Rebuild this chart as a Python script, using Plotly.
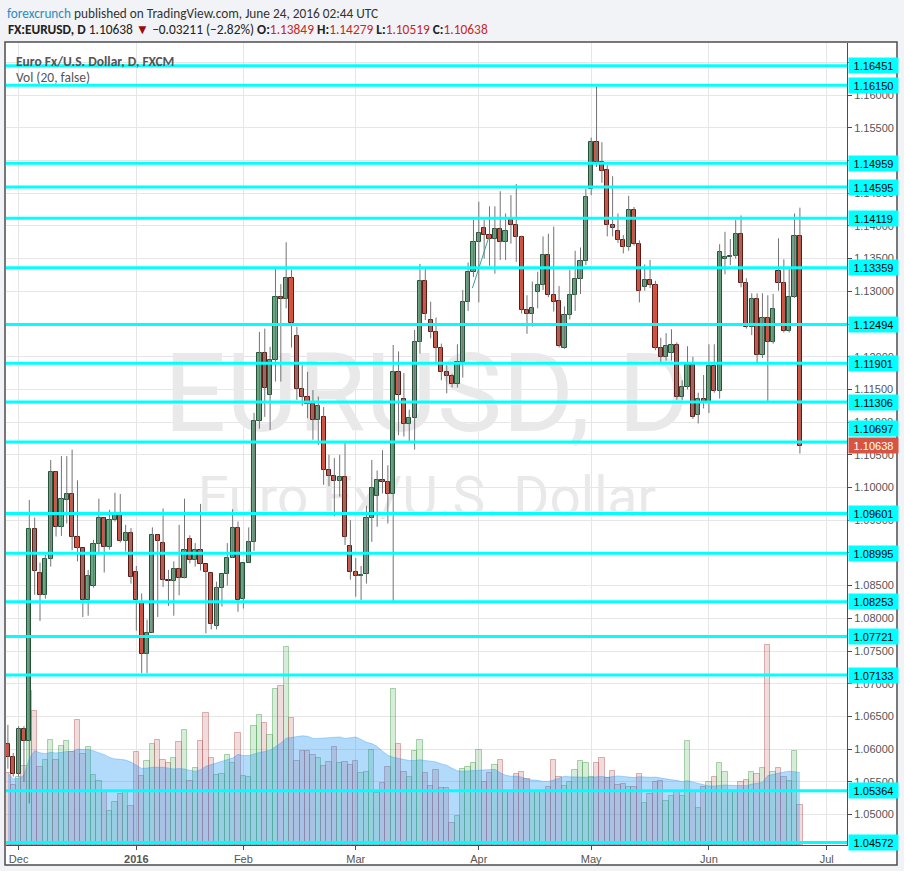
import numpy as np
import pandas as pd
import plotly.graph_objects as go

################        DATA      #####################
holidays = ["2015-12-25", "2016-01-01"]
dates = [d.strftime("%Y-%m-%d") for d in pd.bdate_range("2015-11-27", "2016-06-24")
         if d.strftime("%Y-%m-%d") not in holidays]

opens = [
    1.0608, 1.0588, 1.0562, 1.0630, 1.0612, 1.0936, 1.0869, 1.0835, 1.0890, 1.1023,
    1.0939, 1.0981, 1.0990, 1.0924, 1.0907, 1.0828, 1.0850, 1.0913, 1.0954, 1.0909,
    1.0950, 1.0958, 1.0918, 1.0930, 1.0871, 1.0824, 1.0746, 1.0778, 1.0928, 1.0915,
    1.0858, 1.0857, 1.0875, 1.0861, 1.0921, 1.0889, 1.0905, 1.0883, 1.0870, 1.0789,
    1.0847, 1.0867, 1.0892, 1.0938, 1.0830, 1.0885, 1.0916, 1.1101, 1.1205, 1.1141,
    1.1195, 1.1291, 1.1288, 1.1320, 1.1231, 1.1150, 1.1139, 1.1128, 1.1104, 1.1108,
    1.1027, 1.1017, 1.1010, 1.1016, 1.0911, 1.0871, 1.0864, 1.0867, 1.0954, 1.0987,
    1.1012, 1.1008, 1.0990, 1.1176, 1.1135, 1.1097, 1.1107, 1.1222, 1.1316, 1.1256,
    1.1238, 1.1214, 1.1177, 1.1171, 1.1158, 1.1192, 1.1284, 1.1330, 1.1375, 1.1397,
    1.1386, 1.1380, 1.1396, 1.1375, 1.1409, 1.1402, 1.1383, 1.1271, 1.1265, 1.1299,
    1.1309, 1.1356, 1.1294, 1.1285, 1.1214, 1.1264, 1.1294, 1.1319, 1.1347, 1.1456,
    1.1528, 1.1498, 1.1485, 1.1402, 1.1392, 1.1379, 1.1368, 1.1424, 1.1373, 1.1307,
    1.1318, 1.1310, 1.1213, 1.1200, 1.1205, 1.1218, 1.1138, 1.1153, 1.1187, 1.1111,
    1.1135, 1.1131, 1.1186, 1.1148, 1.1349, 1.1352, 1.1354, 1.1388, 1.1312, 1.1245,
    1.1289, 1.1202, 1.1259, 1.1222, 1.1331, 1.1312, 1.1240, 1.1292, 1.13849,
]
highs = [
    1.0637, 1.0594, 1.0635, 1.0635, 1.0981, 1.0954, 1.0885, 1.0897, 1.1042, 1.1025,
    1.1048, 1.1048, 1.1058, 1.1011, 1.0907, 1.0874, 1.0920, 1.0983, 1.0954, 1.0966,
    1.0992, 1.0990, 1.0943, 1.0938, 1.0880, 1.0838, 1.0798, 1.0939, 1.0928, 1.0968,
    1.0874, 1.0887, 1.0943, 1.0983, 1.0927, 1.0915, 1.0975, 1.0883, 1.0870, 1.0856,
    1.0867, 1.0915, 1.0967, 1.0948, 1.0885, 1.0939, 1.1114, 1.1238, 1.1243, 1.1215,
    1.1334, 1.1311, 1.1375, 1.1333, 1.1246, 1.1187, 1.1177, 1.1149, 1.1139, 1.1123,
    1.1050, 1.1045, 1.1050, 1.1068, 1.0950, 1.0892, 1.0880, 1.0972, 1.1042, 1.1026,
    1.1057, 1.1034, 1.1218, 1.1208, 1.1175, 1.1119, 1.1241, 1.1342, 1.1334, 1.1284,
    1.1260, 1.1220, 1.1187, 1.1174, 1.1219, 1.1302, 1.1344, 1.1409, 1.1437, 1.1409,
    1.1430, 1.1430, 1.1453, 1.1419, 1.1447, 1.1464, 1.1385, 1.1294, 1.1315, 1.1330,
    1.1384, 1.1388, 1.1399, 1.1308, 1.1277, 1.1333, 1.1362, 1.1367, 1.1457, 1.1535,
    1.1613, 1.1528, 1.1493, 1.1476, 1.1419, 1.1386, 1.1446, 1.1429, 1.1378, 1.1341,
    1.1348, 1.1316, 1.1229, 1.1236, 1.1242, 1.1222, 1.1164, 1.1216, 1.1200, 1.1145,
    1.1172, 1.1219, 1.1219, 1.1372, 1.1391, 1.1380, 1.1409, 1.1416, 1.1320, 1.1297,
    1.1297, 1.1297, 1.1294, 1.1296, 1.1381, 1.1349, 1.1334, 1.1419, 1.14279,
]
lows = [
    1.0570, 1.0558, 1.0558, 1.0550, 1.0517, 1.0836, 1.0796, 1.0830, 1.0879, 1.0925,
    1.0926, 1.0945, 1.0904, 1.0887, 1.0802, 1.0804, 1.0847, 1.0899, 1.0870, 1.0905,
    1.0948, 1.0916, 1.0902, 1.0853, 1.0781, 1.0716, 1.0716, 1.0778, 1.0802, 1.0848,
    1.0819, 1.0804, 1.0835, 1.0861, 1.0884, 1.0879, 1.0873, 1.0777, 1.0783, 1.0783,
    1.0818, 1.0850, 1.0892, 1.0810, 1.0815, 1.0885, 1.0903, 1.1090, 1.1108, 1.1088,
    1.1162, 1.1162, 1.1274, 1.1214, 1.1134, 1.1125, 1.1106, 1.1073, 1.1065, 1.1004,
    1.1002, 1.0956, 1.0986, 1.0912, 1.0859, 1.0833, 1.0828, 1.0853, 1.0917, 1.0940,
    1.0991, 1.0945, 1.0823, 1.1080, 1.1078, 1.1070, 1.1058, 1.1205, 1.1256, 1.1228,
    1.1192, 1.1164, 1.1144, 1.1153, 1.1153, 1.1168, 1.1270, 1.1322, 1.1283, 1.1350,
    1.1339, 1.1327, 1.1348, 1.1348, 1.1373, 1.1345, 1.1266, 1.1235, 1.1246, 1.1274,
    1.1302, 1.1291, 1.1269, 1.1214, 1.1212, 1.1257, 1.1270, 1.1296, 1.1340, 1.1447,
    1.1490, 1.1466, 1.1384, 1.1384, 1.1374, 1.1358, 1.1362, 1.1370, 1.1283, 1.1301,
    1.1305, 1.1210, 1.1192, 1.1194, 1.1194, 1.1134, 1.1134, 1.1150, 1.1105, 1.1098,
    1.1121, 1.1114, 1.1145, 1.1136, 1.1326, 1.1340, 1.1350, 1.1306, 1.1243, 1.1233,
    1.1191, 1.1198, 1.1132, 1.1220, 1.1301, 1.1237, 1.1237, 1.1290, 1.10519,
]
closes = [
    1.0588, 1.0562, 1.0630, 1.0612, 1.0936, 1.0873, 1.0835, 1.0890, 1.1023, 1.0939,
    1.0983, 1.0990, 1.0924, 1.0907, 1.0828, 1.0865, 1.0913, 1.0954, 1.0909, 1.0950,
    1.0958, 1.0918, 1.0930, 1.0863, 1.0828, 1.0746, 1.0778, 1.0928, 1.0918, 1.0858,
    1.0857, 1.0875, 1.0861, 1.0905, 1.0889, 1.0905, 1.0883, 1.0871, 1.0791, 1.0847,
    1.0867, 1.0892, 1.0938, 1.0828, 1.0885, 1.0916, 1.1101, 1.1205, 1.1152, 1.1195,
    1.1291, 1.1288, 1.1320, 1.1252, 1.1150, 1.1139, 1.1128, 1.1104, 1.1125, 1.1027,
    1.1017, 1.1010, 1.1016, 1.0925, 1.0871, 1.0864, 1.0866, 1.0954, 1.1000, 1.1012,
    1.1008, 1.0990, 1.1176, 1.1142, 1.1097, 1.1107, 1.1222, 1.1316, 1.1265, 1.1238,
    1.1214, 1.1177, 1.1171, 1.1158, 1.1192, 1.1284, 1.1330, 1.1375, 1.1389, 1.1386,
    1.1380, 1.1396, 1.1375, 1.1392, 1.1402, 1.1383, 1.1271, 1.1265, 1.1274, 1.1309,
    1.1356, 1.1294, 1.1284, 1.1217, 1.1264, 1.1294, 1.1319, 1.1347, 1.1444, 1.1528,
    1.1498, 1.1484, 1.1402, 1.1397, 1.1379, 1.1368, 1.1424, 1.1373, 1.1301, 1.1318,
    1.1309, 1.1213, 1.1200, 1.1216, 1.1218, 1.1138, 1.1153, 1.1187, 1.1108, 1.1135,
    1.1131, 1.1186, 1.1148, 1.1360, 1.1352, 1.1354, 1.1388, 1.1312, 1.1245, 1.1289,
    1.1202, 1.1259, 1.1222, 1.1273, 1.1312, 1.1240, 1.1292, 1.1385, 1.10638,
]
volumes = [
    72, 60, 68, 79, 154, 134, 78, 85, 105, 85,
    99, 104, 93, 125, 91, 98, 70, 64, 53, 34,
    43, 51, 53, 39, 93, 69, 84, 101, 105, 85,
    82, 87, 103, 115, 64, 77, 104, 132, 87, 70,
    71, 90, 82, 112, 69, 68, 119, 130, 122, 110,
    156, 159, 198, 127, 84, 94, 94, 90, 87, 79,
    83, 98, 82, 83, 80, 84, 72, 73, 95, 52,
    62, 78, 156, 101, 73, 68, 94, 105, 72, 59,
    75, 57, 57, 22, 29, 76, 78, 82, 95, 63,
    72, 80, 85, 53, 53, 71, 73, 66, 53, 53,
    53, 58, 85, 68, 59, 63, 75, 84, 82, 68,
    82, 87, 67, 74, 60, 61, 58, 58, 71, 42,
    51, 63, 64, 44, 49, 53, 49, 104, 53, 37,
    58, 63, 68, 82, 73, 53, 53, 63, 65, 73,
    71, 77, 200, 73, 77, 68, 64, 94, 40,
]

levels = [1.16451, 1.16150, 1.14959, 1.14595, 1.14119, 1.13359, 1.12494, 1.11901,
          1.11306, 1.10697, 1.09601, 1.08995, 1.08253, 1.07721, 1.07133, 1.05364, 1.04572]
last_close = 1.10638
trend_line = [(86.8, 1.1305), (89.8, 1.1381)]

month_ticks = ["2015-12-01", "2016-01-04", "2016-02-01", "2016-03-01", "2016-04-01",
               "2016-05-02", "2016-06-01", "2016-07-01"]
month_labels = ["Dec", "<b>2016</b>", "Feb", "Mar", "Apr", "May", "Jun", "Jul"]

################        STYLE      #####################
UP, UP_EDGE = "#6ba583", "#225437"
DN, DN_EDGE = "#d75442", "#5b1a13"
WICK = "#737375"
CYAN = "#00ffff"
AXIS = "#4d4d4d"
TXT = "#555555"
FONT = "Liberation Sans, Arial, sans-serif"
HFONT = "Carlito, Lato, sans-serif"

PL, PR, PT, PB = 6, 847, 43, 845     # plot area in page pixels


def px_x(px):
    return (px - PL) / (PR - PL)


def px_y(py):
    return (PB - py) / (PB - PT)


def tick_index(d):
    if d in dates:
        return dates.index(d)
    return len(dates) - 1 + int(np.busday_count(dates[-1], d))


################        BUILD      #####################
idx = list(range(len(dates)))
up = [c >= o for o, c in zip(opens, closes)]

wick_x, wick_y = [], []
for i, (h, l) in enumerate(zip(highs, lows)):
    wick_x += [i, i, None]
    wick_y += [l, h, None]

body_base = [min(o, c) for o, c in zip(opens, closes)]
body_h = [max(abs(c - o), 0.00004) for o, c in zip(opens, closes)]

vol_ma = pd.Series(volumes).rolling(20, min_periods=1).mean()

fig = go.Figure()

# watermark (drawn under everything on the volume axis)
fig.add_trace(go.Scatter(x=[78.3], y=[442], mode="text", text=["EURUSD, D"],
                         textfont=dict(family="Roboto", size=110, color="#e9e9e9"),
                         hoverinfo="skip", yaxis="y"))
fig.add_trace(go.Scatter(x=[78.3], y=[343], mode="text", text=["Euro Fx/U.S. Dollar"],
                         textfont=dict(family="Roboto", size=55, color="#e9e9e9"),
                         hoverinfo="skip", yaxis="y"))

# volume + 20 ma
fig.add_trace(go.Bar(
    x=idx, y=volumes, width=1,
    marker=dict(color=["rgba(76,175,80,0.22)" if u else "rgba(190,90,90,0.22)" for u in up],
                line=dict(color=["rgba(76,160,80,0.45)" if u else "rgba(180,90,90,0.45)" for u in up],
                          width=1)),
    yaxis="y", hoverinfo="skip"))
fig.add_trace(go.Scatter(x=idx, y=vol_ma, mode="lines", fill="tozeroy",
                         fillcolor="rgba(33,150,243,0.35)",
                         line=dict(color="rgba(33,150,243,0.35)", width=1),
                         yaxis="y", hoverinfo="skip"))

# candles: wicks then bodies
fig.add_trace(go.Scatter(x=wick_x, y=wick_y, mode="lines",
                         line=dict(color=WICK, width=1), yaxis="y2", hoverinfo="skip"))
fig.add_trace(go.Bar(
    x=idx, y=body_h, base=body_base, width=0.78,
    marker=dict(color=[UP if u else DN for u in up],
                line=dict(color=[UP_EDGE if u else DN_EDGE for u in up], width=1)),
    yaxis="y2", customdata=np.stack([opens, highs, lows, closes], axis=1),
    hovertemplate="O %{customdata[0]}<br>H %{customdata[1]}<br>L %{customdata[2]}<br>C %{customdata[3]}<extra></extra>"))

################        LAYOUT      #####################
fig.update_layout(
    width=904, height=871,
    margin=dict(l=PL, r=904 - PR, t=PT, b=871 - PB),
    paper_bgcolor="#f1f3f6",
    plot_bgcolor="white",
    showlegend=False,
    barmode="overlay",
    bargap=0,
    font=dict(family=FONT, size=11, color=TXT),
    xaxis=dict(
        range=[-0.355, 156.8],
        tickvals=[tick_index(d) for d in month_ticks],
        ticktext=month_labels,
        showgrid=True, gridcolor="#e6e6e6", gridwidth=1,
        zeroline=False,
        showline=True, linecolor=AXIS, linewidth=1,
        ticks="outside", ticklen=4, tickcolor=AXIS,
        tickfont=dict(size=11, color=TXT),
    ),
    yaxis=dict(range=[0, PB - PT], visible=False, fixedrange=True),
    yaxis2=dict(
        overlaying="y", side="right",
        range=[1.045336, 1.16797],
        tick0=1.0, dtick=0.005, tickformat=".5f",
        showgrid=True, gridcolor="#e6e6e6", gridwidth=1,
        zeroline=False,
        showline=True, linecolor=AXIS, linewidth=1,
        ticks="outside", ticklen=4, tickcolor=AXIS,
        tickfont=dict(size=11, color=TXT),
    ),
)

shapes = [
    # white chart panel and its border
    dict(type="rect", xref="paper", yref="paper", x0=px_x(5), x1=px_x(897),
         y0=px_y(865), y1=px_y(42), fillcolor="white", line=dict(width=0), layer="below"),
    dict(type="rect", xref="paper", yref="paper", x0=px_x(5), x1=px_x(897),
         y0=px_y(865), y1=px_y(42), fillcolor="rgba(0,0,0,0)",
         line=dict(color=AXIS, width=1.5), layer="above"),
    dict(type="line", xref="x", yref="y2", x0=trend_line[0][0], y0=trend_line[0][1],
         x1=trend_line[1][0], y1=trend_line[1][1], line=dict(color="#3aa395", width=1)),
]
for lv in levels:
    shapes.append(dict(type="line", xref="paper", yref="y2", x0=0, x1=1, y0=lv, y1=lv,
                       line=dict(color=CYAN, width=3), layer="above"))

annotations = []
for lv in levels:
    annotations.append(dict(
        xref="paper", yref="y2", x=1, y=lv, xanchor="left", yanchor="middle",
        xshift=1, yshift=13 if lv == 1.10697 else 0,
        text=f"{lv:.5f}", showarrow=False, bgcolor=CYAN, width=47, height=13,
        borderpad=1, font=dict(family=FONT, size=11, color="black")))
annotations.append(dict(
    xref="paper", yref="y2", x=1, y=last_close, xanchor="left", yanchor="middle", xshift=1,
    text=f"{last_close:.5f}", showarrow=False, bgcolor=DN, width=47, height=13,
    borderpad=1, font=dict(family=FONT, size=11, color="white")))

# legend texts inside the pane
annotations.append(dict(xref="paper", yref="paper", x=px_x(14), y=px_y(61),
                        xanchor="left", yanchor="middle", showarrow=False,
                        text="<b>Euro Fx/U.S. Dollar, D, FXCM</b>",
                        font=dict(family=HFONT, size=13.5, color="#555555")))
annotations.append(dict(xref="paper", yref="paper", x=px_x(14), y=px_y(77),
                        xanchor="left", yanchor="middle", showarrow=False,
                        text="Vol (20, false)",
                        font=dict(family=HFONT, size=13.5, color="#555555")))

# header above the chart
red = "#c62828"
annotations.append(dict(
    xref="paper", yref="paper", x=px_x(5), y=px_y(13), xanchor="left", yanchor="middle",
    showarrow=False,
    text='<span style="color:#2a8bc4">forexcrunch</span> published on TradingView.com, June 24, 2016 02:44 UTC',
    font=dict(family=HFONT, size=13.3, color="#333333")))
annotations.append(dict(
    xref="paper", yref="paper", x=px_x(6), y=px_y(29), xanchor="left", yanchor="middle",
    showarrow=False,
    text=(f'<b>FX:EURUSD, D</b> 1.10638 <span style="color:#9b0d0d">▼</span> −0.03211 (−2.82%) '
          f'<b>O:</b><span style="color:{red}">1.13849</span> '
          f'<b>H:</b><span style="color:{red}">1.14279</span> '
          f'<b>L:</b><span style="color:{red}">1.10519</span> '
          f'<b>C:</b><span style="color:{red}">1.10638</span>'),
    font=dict(family=HFONT, size=13.4, color="#222222")))

fig.update_layout(shapes=shapes, annotations=annotations)

# the page body has a default 8px margin; drop it so the figure sits at the window corner
fig.write_html("out.html", config={"displayModeBar": False},
               post_script="document.body.style.margin='0px';")
